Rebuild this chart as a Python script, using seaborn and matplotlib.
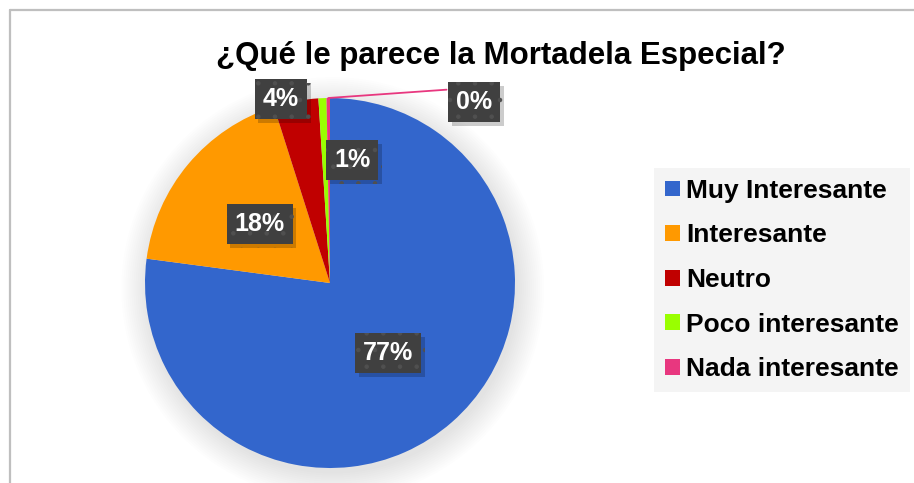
import numpy as np
import matplotlib
matplotlib.use("Agg")
import matplotlib.pyplot as plt
import matplotlib.patheffects as pe
from matplotlib.patches import Patch, Circle
from matplotlib.lines import Line2D
import seaborn as sns

# data
categories = ["Muy Interesante", "Interesante", "Neutro", "Poco interesante", "Nada interesante"]
values = [77.1, 18.0, 3.9, 0.7, 0.3]
colors = ["#3366cc", "#ff9900", "#c00000", "#99ff00", "#e8377f"]
title = "¿Qué le parece la Mortadela Especial?"

sns.set_theme(style="white")
plt.rcParams['font.family'] = ['Liberation Sans', 'DejaVu Sans']
plt.rcParams['hatch.linewidth'] = 0.8

W, H = 914, 483
fig = plt.figure(figsize=(W / 100, H / 100), dpi=100)
fig.patch.set_facecolor("white")

# one data unit = pie radius (185 px); centre of pie at (330, 283) px
R = 185.0
cx, cy = 330.0, 283.0
ax = fig.add_axes([0, 0, 1, 1])

# soft shadow under the pie
for k in range(14):
    ax.add_patch(Circle((0.015, -0.03), 1.0 + 0.011 * k, color="black", alpha=0.009, lw=0, zorder=1))

wedges, _ = ax.pie(values, colors=colors, startangle=90, counterclock=False,
                   radius=1.0, wedgeprops=dict(linewidth=0))
for w in wedges:
    w.set_zorder(3)

ax.set_aspect("auto")
ax.set_xlim(-cx / R, (W - cx) / R)
ax.set_ylim(-(H - cy) / R, cy / R)
ax.axis("off")

# label positions (data units, relative to pie centre)
total = sum(values)
pcts = ["{:.0f}%".format(v / total * 100) for v in values]
label_pos = [(0.315, -0.38), (-0.38, 0.32), (-0.265, 0.995), (0.12, 0.665), (0.78, 0.98)]

# leader line for the tiny slice
last = wedges[-1]
mid = np.deg2rad((last.theta1 + last.theta2) / 2)
ax.plot([np.cos(mid), 0.63], [np.sin(mid), 1.045], color=colors[-1], lw=1.3, zorder=4)

for (x, y), txt in zip(label_pos, pcts):
    t = ax.text(x, y, txt, ha="center", va="center", fontsize=18, fontweight="bold",
                color="white", zorder=6,
                bbox=dict(boxstyle="square,pad=0.32", fc="#404040", ec="#505050", lw=0, hatch="."))
    t.get_bbox_patch().set_path_effects([
        pe.SimplePatchShadow(offset=(2.5, -3), shadow_rgbFace="black", alpha=0.2),
        pe.Normal()])

fig.text(0.548, 0.884, title, ha="center", va="center", fontsize=22.5, fontweight="bold", color="black")

handles = [Patch(facecolor=c, edgecolor="none") for c in colors]
leg = fig.legend(handles, categories, loc="center left", bbox_to_anchor=(654 / W, 1 - 280 / H),
                 frameon=True, fontsize=19, handlelength=0.55, handleheight=0.55, handletextpad=0.25,
                 labelspacing=0.78, borderpad=0.42, borderaxespad=0, fancybox=False)
leg.get_frame().set_facecolor("#f2f2f2")
leg.get_frame().set_edgecolor("none")
for t in leg.get_texts():
    t.set_fontweight("bold")
    t.set_color("black")

# chart border (top and left visible)
fig.add_artist(Line2D([10 / W, 10 / W], [0, 1 - 10 / H], color="#bfbfbf", lw=1.6, transform=fig.transFigure))
fig.add_artist(Line2D([10 / W, 1], [1 - 10 / H, 1 - 10 / H], color="#bfbfbf", lw=1.6, transform=fig.transFigure))

fig.savefig("out.png", dpi=100)
